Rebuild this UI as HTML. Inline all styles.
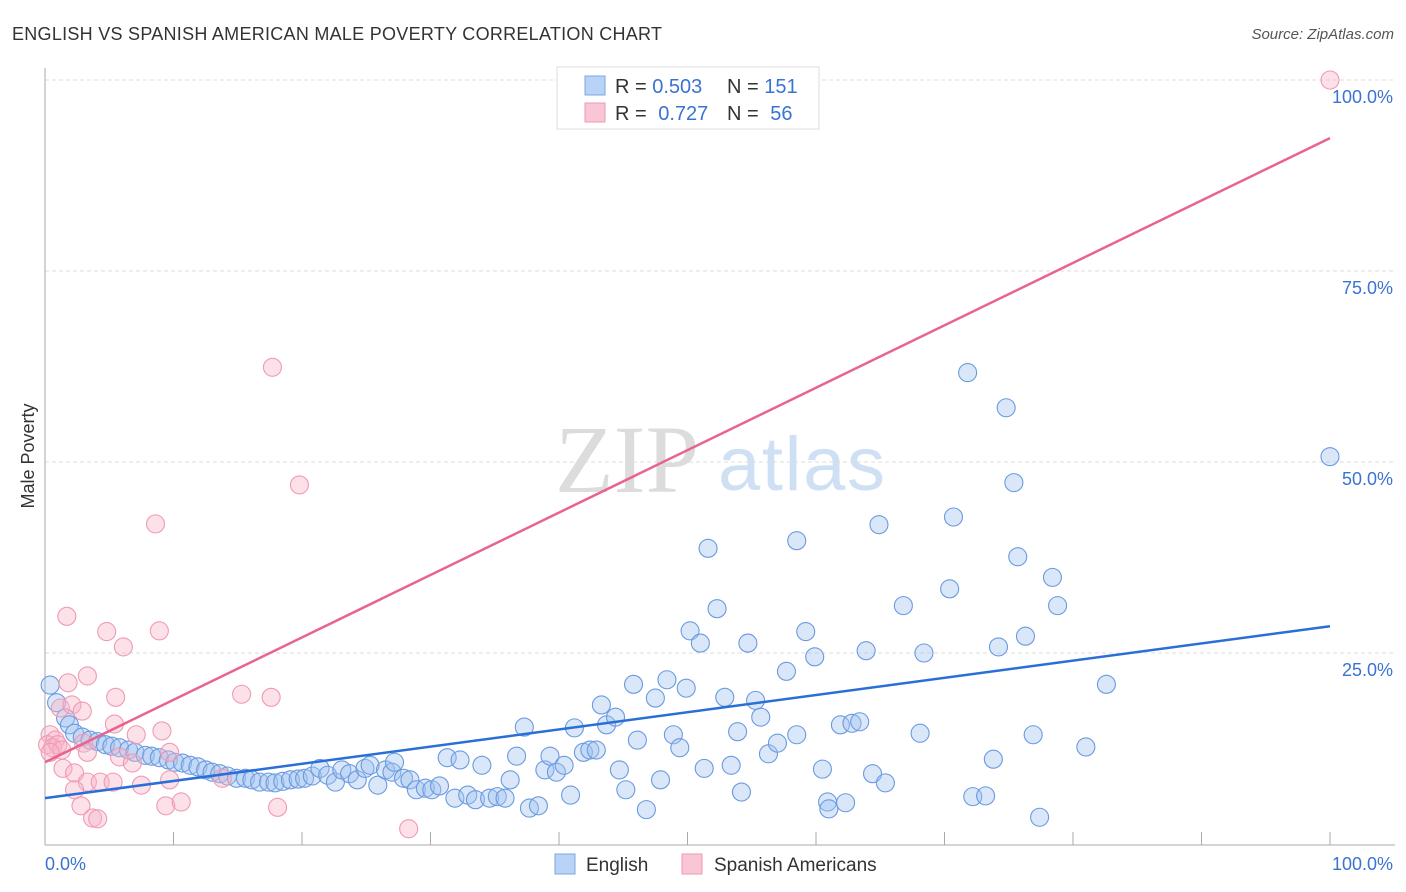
<!DOCTYPE html>
<html><head><meta charset="utf-8">
<style>
body{margin:0;background:#fff;font-family:"Liberation Sans",sans-serif;}
#wrap{position:relative;width:1406px;height:892px;overflow:hidden;}
svg{position:absolute;left:0;top:0;}
</style></head>
<body>
<div id="wrap">
<svg id="chart" width="1406" height="892">
  <text x="12" y="40" font-size="18" fill="#333" textLength="650">ENGLISH VS SPANISH AMERICAN MALE POVERTY CORRELATION CHART</text>
  <text x="1394" y="39" font-size="15" fill="#555" font-style="italic" text-anchor="end">Source: ZipAtlas.com</text>
  <text x="555" y="492" font-size="96" fill="#dcdcdc" font-family="Liberation Serif, serif">ZIP</text>
  <text x="718" y="490" font-size="76" fill="#cfe0f5" textLength="167">atlas</text>
  <g id="grid"></g>
  <g id="axes"></g>
  <g id="pts"></g>
  <g id="trend"></g>
  <text transform="translate(34,456) rotate(-90)" font-size="18" fill="#333" text-anchor="middle">Male Poverty</text>
  <g>
    <rect x="557" y="67" width="262" height="62" fill="#fff" stroke="#ddd"/>
    <rect x="585" y="76" width="20" height="19" fill="#b8d3f5" stroke="#7aa7e6"/>
    <rect x="585" y="103" width="20" height="19" fill="#f8c6d4" stroke="#ee9ab3"/>
    <text x="615" y="93" font-size="20" fill="#333">R = <tspan fill="#3a73d0">0.503</tspan></text>
    <text x="727" y="93" font-size="20" fill="#333">N = <tspan fill="#3a73d0">151</tspan></text>
    <text x="615" y="120" font-size="20" fill="#333">R = <tspan fill="#3a73d0" dx="6">0.727</tspan></text>
    <text x="727" y="120" font-size="20" fill="#333">N = <tspan fill="#3a73d0" dx="6">56</tspan></text>
  </g>
  <g>
    <rect x="555" y="854" width="20" height="20" fill="#b8d3f5" stroke="#7aa7e6"/>
    <text x="586" y="871" font-size="19" fill="#333">English</text>
    <rect x="682" y="854" width="20" height="20" fill="#f8c6d4" stroke="#ee9ab3"/>
    <text x="714" y="871" font-size="19" fill="#333">Spanish Americans</text>
  </g>
</svg>
</div>
<script>
const engX=[0.4,0.9,1.6,1.9,2.3,2.9,3.5,4.1,4.7,5.2,5.8,6.5,7.0,7.8,8.3,8.9,9.6,10.1,10.7,11.3,11.9,12.5,13.0,13.6,14.2,14.9,15.6,16.1,16.7,17.4,17.9,18.5,19.1,19.7,20.2,20.8,21.4,22.0,22.6,23.1,23.7,24.3,24.9,25.3,25.9,26.5,27.0,27.2,27.9,28.4,28.9,29.6,30.1,30.7,31.3,31.9,32.3,32.9,33.5,34.0,34.6,35.2,35.8,36.2,36.7,37.3,37.7,38.4,38.9,39.3,39.8,40.4,40.9,41.2,41.9,42.4,42.9,43.3,43.7,44.4,44.7,45.2,45.8,46.1,46.8,47.5,47.9,48.4,48.9,49.4,49.9,50.2,51.0,51.3,51.6,52.3,52.9,53.4,53.9,54.2,54.7,55.3,55.7,56.3,57.0,57.7,58.5,58.5,59.2,59.9,60.5,60.9,61.0,61.9,62.3,62.8,63.4,63.9,64.4,64.9,65.4,66.8,68.1,68.4,70.4,70.7,71.8,72.2,73.2,73.8,74.2,74.8,75.4,75.7,76.3,76.9,77.4,78.4,78.8,81.0,82.6,100];
const engY=[20.8,18.5,16.5,15.6,14.5,14.0,13.6,13.4,13.0,12.8,12.6,12.3,12.0,11.6,11.5,11.3,11.0,10.7,10.6,10.3,10.1,9.7,9.4,9.2,8.9,8.6,8.6,8.4,8.1,8.1,8.0,8.2,8.4,8.5,8.6,8.9,9.9,9.0,8.1,9.7,9.2,8.4,9.9,10.3,7.7,9.7,9.4,10.7,8.6,8.4,7.1,7.3,7.1,7.6,11.3,6.0,11.0,6.4,5.8,10.3,6.0,6.2,6.0,8.4,11.5,15.3,4.7,5.0,9.7,11.5,9.4,10.3,6.4,15.2,12.0,12.3,12.3,18.2,15.6,16.6,9.7,7.1,20.9,13.6,4.5,19.1,8.4,21.5,14.3,12.6,20.4,27.9,26.3,9.9,38.7,30.8,19.2,10.3,14.7,6.8,26.3,18.8,16.6,11.8,13.2,22.6,14.3,39.7,27.8,24.5,9.8,5.5,4.6,15.6,5.4,15.8,16.0,25.3,9.2,41.8,8.0,31.2,14.5,25.0,33.4,42.8,61.7,6.2,6.3,11.1,25.8,57.1,47.3,37.6,27.2,14.3,3.5,34.9,31.2,12.7,20.9,50.7];
const spaX=[100,17.7,19.8,8.6,1.7,4.8,8.9,6.1,3.3,1.8,5.5,15.3,17.6,1.2,2.1,2.9,5.4,9.1,7.1,0.4,0.8,0.2,0.6,1.0,1.3,0.4,3.0,3.3,5.8,6.8,9.7,1.4,2.3,3.3,4.3,5.3,9.7,7.5,2.3,2.8,9.4,10.6,18.1,3.7,4.1,28.3,13.8];
const spaY=[100,62.4,47.0,41.9,29.8,27.8,27.9,25.8,22.0,21.1,19.2,19.6,19.2,17.8,18.2,17.4,15.7,14.8,14.3,14.3,13.6,13.0,12.6,13.0,12.3,12.0,13.2,12.0,11.4,10.6,12.0,9.9,9.3,8.1,8.1,8.1,8.4,7.7,7.1,5.0,5.0,5.5,4.8,3.4,3.3,2.0,8.6];
const trendEng=[6.0,28.5];
const trendSpa=[10.7,92.4];
const yTicks=[25,50,75,100];
const yTickLabels=["25.0%","50.0%","75.0%","100.0%"];
const xTicks=[10,20,30,40,50,60,70,80,90,100];

const X=v=>45+v*12.85, Y=v=>844-v*7.64;
const NS="http://www.w3.org/2000/svg";
function mk(tag,attrs,parent){const e=document.createElementNS(NS,tag);for(const k in attrs)e.setAttribute(k,attrs[k]);document.getElementById(parent).appendChild(e);return e;}
yTicks.forEach((t,i)=>{
  const l=mk('line',{x1:45,x2:1395,y1:Y(t),y2:Y(t),stroke:'#ddd','stroke-dasharray':'4,3'},'grid');
  
  
  const tx=mk('text',{x:1393,y:Y(t)+23,'font-size':18,fill:'#3a73d0','text-anchor':'end'},'grid');
  tx.textContent=yTickLabels[i];
  
  
});
let a=mk('line',{x1:45,x2:45,y1:68,y2:845,stroke:'#aaa'},'axes');


a=mk('line',{x1:45,x2:1395,y1:845,y2:845,stroke:'#aaa'},'axes');


xTicks.forEach(t=>{
  const l=mk('line',{x1:X(t),x2:X(t),y1:832,y2:845,stroke:'#aaa'},'axes');
  
  
});
let t0=mk('text',{x:45,y:870,'font-size':18,fill:'#3a73d0'},'axes');t0.textContent='0.0%';


let t1=mk('text',{x:1393,y:870,'font-size':18,fill:'#3a73d0','text-anchor':'end'},'axes');t1.textContent='100.0%';


engX.forEach((v,i)=>{
  const c=mk('circle',{cx:X(v),cy:Y(engY[i]),r:9,fill:'rgba(160,196,240,0.4)',stroke:'#6a9ae0','stroke-width':1.1},'pts');
  
  
});
spaX.forEach((v,i)=>{
  const c=mk('circle',{cx:X(v),cy:Y(spaY[i]),r:9,fill:'rgba(248,180,200,0.4)',stroke:'#f09ab4','stroke-width':1.1},'pts');
  
  
});
let tl=mk('line',{x1:X(0),y1:Y(trendEng[0]),x2:X(100),y2:Y(trendEng[1]),stroke:'#2a6fd6','stroke-width':2.5},'trend');


tl=mk('line',{x1:X(0),y1:Y(trendSpa[0]),x2:X(100),y2:Y(trendSpa[1]),stroke:'#e8648f','stroke-width':2.5},'trend');


</script>
</body></html>
